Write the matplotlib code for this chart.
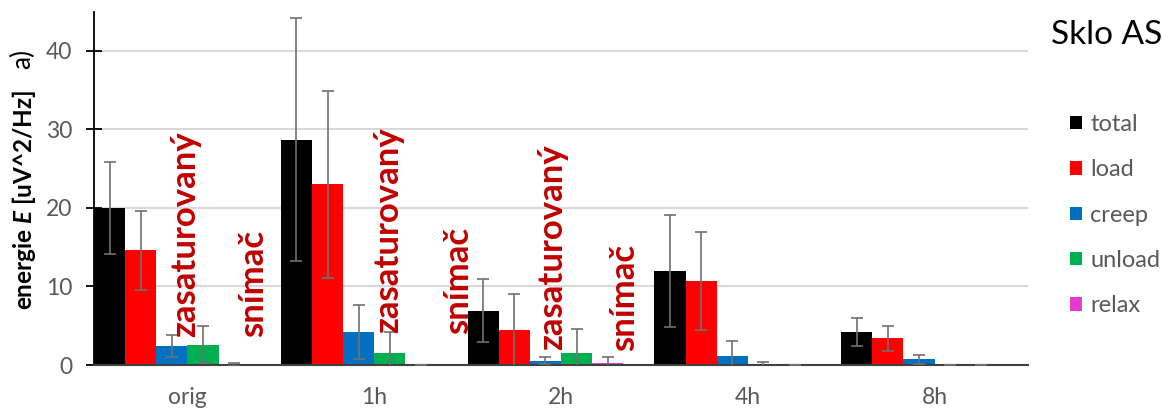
import matplotlib.pyplot as plt
import numpy as np

plt.rcParams['font.family'] = ['Lato', 'DejaVu Sans']
plt.rcParams['mathtext.fontset'] = 'custom'
plt.rcParams['mathtext.rm'] = 'Lato'
plt.rcParams['mathtext.bf'] = 'Lato:bold'
plt.rcParams['mathtext.it'] = 'Lato:italic'
plt.rcParams['mathtext.bfit'] = 'Lato:italic:bold'

categories = ["orig", "1h", "2h", "4h", "8h"]
series = ["total", "load", "creep", "unload", "relax"]
colors = ["#000000", "#FF0000", "#0070C0", "#00B050", "#E23CD2"]

total = [20.0, 28.7, 6.9, 12.0, 4.2]
total_err = [5.8, 15.5, 4.0, 7.1, 1.8]
load = [14.6, 23.0, 4.4, 10.7, 3.4]
load_err = [5.0, 11.9, 4.6, 6.3, 1.6]
creep = [2.4, 4.2, 0.55, 1.15, 0.73]
creep_err = [1.4, 3.4, 0.45, 1.85, 0.6]
unload = [2.6, 1.5, 1.5, 0.05, 0.0]
unload_err = [2.4, 2.7, 3.1, 0.35, 0.0]
relax = [0.1, 0.0, 0.25, 0.0, 0.0]
relax_err = [0.2, 0.0, 0.8, 0.0, 0.0]

values = [total, load, creep, unload, relax]
errors = [total_err, load_err, creep_err, unload_err, relax_err]

# red notes: text, x (data), y bottom (data)
notes = [("zasaturovaný", -0.013, 3.6), ("snímač", 0.351, 3.6),
         ("zasaturovaný", 1.074, 4.1), ("snímač", 1.449, 3.9),
         ("zasaturovaný", 1.95, 1.9), ("snímač", 2.337, 1.8)]

fig = plt.figure(figsize=(11.62, 4.09), dpi=100)
ax = fig.add_axes([94/1162, 1-365/409, (1028-94)/1162, (365-11.7)/409])

x = np.arange(len(categories))
w = 1/6
for i in range(len(series)):
    pos = x + (i - 2.5)*w
    ax.bar(pos, values[i], w, color=colors[i], label=series[i], zorder=2)
    ax.errorbar(pos, values[i], yerr=errors[i], fmt='none', ecolor="#707070",
                elinewidth=1.2, capsize=4.5, capthick=1.2, zorder=3)

for t, tx, ty in notes:
    ax.text(tx, ty, t, rotation=90, color="#C00000", fontsize=25, fontweight='bold',
            ha='center', va='bottom', zorder=4)

ax.set_xlim(-0.5, 4.5)
ax.set_ylim(0, 45)
ax.set_yticks([0, 10, 20, 30, 40])
ax.set_xticks(x)
ax.set_xticklabels(categories)
ax.yaxis.grid(True, color="#D9D9D9", linewidth=1.5, zorder=0)
ax.set_axisbelow(True)
for s in ["top", "right"]:
    ax.spines[s].set_visible(False)
ax.spines["left"].set_linewidth(1.3)
ax.spines["bottom"].set_color("#404040")
ax.spines["bottom"].set_linewidth(1.5)
ax.tick_params(axis='y', direction='inout', length=11, width=1.3, colors="#000000",
               labelcolor="#595959", labelsize=16.5, pad=10)
ax.tick_params(axis='x', length=0, labelcolor="#595959", labelsize=16.5, pad=16)

fig.text(24/1162, 1-200/409, r"energie $\mathbfit{E}$ [uV^2/Hz]", rotation=90,
         fontsize=17.5, fontweight='bold', ha='center', va='center')
fig.text(23/1162, 1-59/409, "a)", rotation=90, fontsize=19, ha='center', va='center')
fig.text(1107/1162, 1-35/409, "Sklo AS", fontsize=24, ha='center', va='center')

ax.legend(loc='upper left', bbox_to_anchor=(1070/1162, 1-114/409),
          bbox_transform=fig.transFigure, frameon=False, fontsize=17,
          borderpad=0, borderaxespad=0,
          handlelength=0.5, handleheight=0.5, handletextpad=0.35,
          labelspacing=1.03, labelcolor="#595959")

plt.savefig("out.png", dpi=100)
